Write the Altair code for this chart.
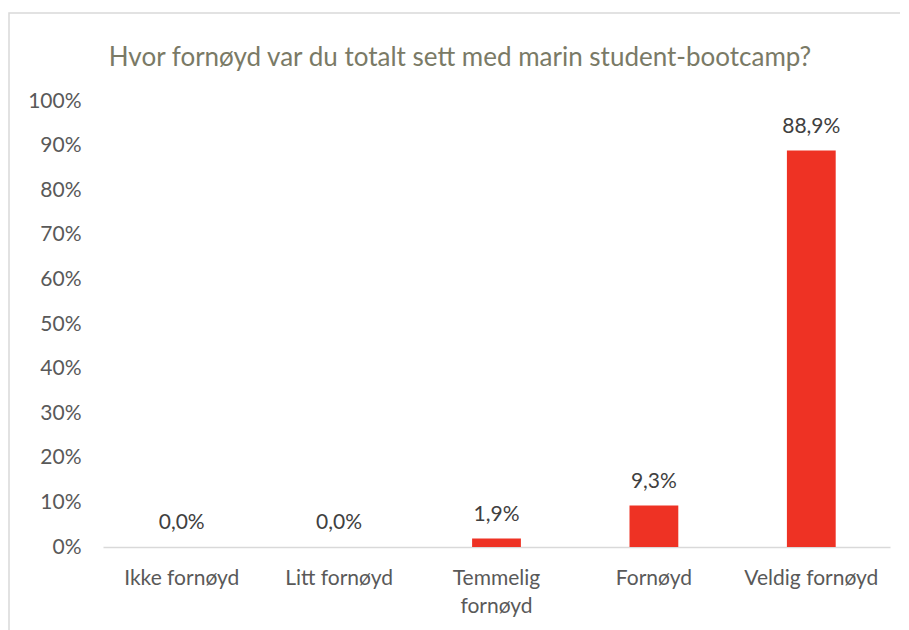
import altair as alt
import pandas as pd

categories = ["Ikke fornøyd", "Litt fornøyd", "Temmelig fornøyd", "Fornøyd", "Veldig fornøyd"]
values = [0.0, 0.0, 1.9, 9.3, 88.9]
y_ticks = [0, 10, 20, 30, 40, 50, 60, 70, 80, 90, 100]
title_text = "Hvor fornøyd var du totalt sett med marin student-bootcamp?"

df = pd.DataFrame({"cat": categories, "val": values})

FONT = "Lato"
W, H = 787, 446
FS = 21

base = alt.Chart(df).encode(
    x=alt.X("cat:N", sort=categories, title=None,
            scale=alt.Scale(paddingInner=0.69, paddingOuter=0.345),
            axis=alt.Axis(labelAngle=0, ticks=False, domainColor="#D9D9D9", domainWidth=1.5,
                          labelFont=FONT, labelFontSize=FS, labelColor="#595959",
                          labelPadding=31, labelLineHeight=28, labelBaseline="middle",
                          labelExpr="datum.value == 'Temmelig fornøyd' ? ['Temmelig', 'fornøyd'] : datum.value")),
)

y_enc = alt.Y("val:Q", title=None,
              scale=alt.Scale(domain=[0, 100], nice=False),
              axis=alt.Axis(values=y_ticks, grid=False, domain=False, ticks=False,
                            labelFont=FONT, labelFontSize=FS, labelColor="#595959",
                            labelPadding=22, labelExpr="datum.value + '%'"))

bars = base.mark_bar(color="#EE3224").encode(y=y_enc)

labels = base.transform_calculate(
    lbl="replace(format(datum.val, '.1f'), '.', ',') + '%'"
).mark_text(baseline="middle", dy=-24, font=FONT, fontSize=FS, color="#404040").encode(
    y=alt.Y("val:Q"), text="lbl:N")

border = alt.Chart(df.head(1)).mark_rect(fill=None, stroke="#D9D9D9", strokeWidth=1.5, clip=False).encode(
    x=alt.value(-94), x2=alt.value(W + 40), y=alt.value(-88), y2=alt.value(H + 140))

title = alt.Chart(pd.DataFrame({"t": [title_text]})).mark_text(
    font=FONT, fontSize=26, color="#7A7A66", align="center", baseline="middle").encode(
    x=alt.value(357), y=alt.value(-43), text="t:N")

chart = alt.layer(border, bars, labels, title).properties(
    width=W, height=H,
    padding={"left": 95, "top": 93, "right": 10, "bottom": 90},
    autosize=alt.AutoSizeParams(type="none"),
).configure(background="white").configure_view(stroke=None, strokeWidth=0)

chart.save("out.html", embed_options={"renderer": "svg", "actions": False})
